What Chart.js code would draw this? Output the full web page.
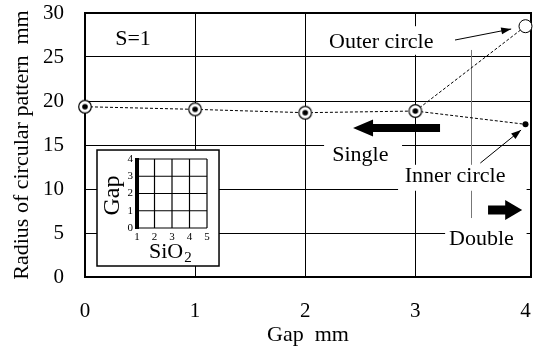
<!DOCTYPE html>
<html>
<head>
<meta charset="utf-8">
<script src="https://cdn.jsdelivr.net/npm/chart.js@4"></script>
<style>
  html, body { margin: 0; padding: 0; background: #fff; }
  #wrap { width: 533px; height: 349px; }
</style>
</head>
<body>
<div id="wrap"><canvas id="chart" width="533" height="349"></canvas></div>
<script>
const gapSingle = [0, 1, 2, 3];
const radiusSingle = [19.35, 19.05, 18.67, 18.86];
const gapDouble = [3, 4];
const radiusOuter = [18.86, 28.5];
const radiusInner = [18.86, 17.35];
const gapTicks = [0, 1, 2, 3, 4];
const radiusTicks = [0, 5, 10, 15, 20, 25, 30];
const insetGapTicks = [0, 1, 2, 3, 4];
const insetSiO2Ticks = [1, 2, 3, 4, 5];

const serif = '"Liberation Serif", "Times New Roman", serif';

// text labels, placed in data units; bg = white box that hides the grid
const notes = [
  { text: 'S=1', x: 0.436, y: 27.05 },
  { text: 'Outer circle', x: 2.69, y: 26.7, bg: [2.153, 3.233, 28.5, 25.25] },
  { text: 'Single', x: 2.50, y: 13.8, bg: [2.171, 2.879, 15.8, 12.4] },
  { text: 'Inner circle', x: 3.36, y: 11.45, bg: [2.843, 4.01, 12.75, 9.8] },
  { text: 'Double', x: 3.60, y: 4.3, bg: [3.27, 4.01, 6.0, 2.9] }
];

const ringDot = document.createElement('canvas');
ringDot.width = 16; ringDot.height = 16;
const rc = ringDot.getContext('2d');
rc.beginPath(); rc.arc(8, 8, 6.3, 0, Math.PI * 2);
rc.fillStyle = '#fff'; rc.fill();
rc.lineWidth = 1.2; rc.strokeStyle = '#000'; rc.stroke();
rc.beginPath(); rc.arc(8, 8, 2.8, 0, Math.PI * 2);
rc.fillStyle = '#000'; rc.fill();

const pts = (xs, ys) => xs.map((x, i) => ({ x: x, y: ys[i] }));

function thickArrow(ctx, tail, tip, y, shaft, headH, headL) {
  const d = tip > tail ? 1 : -1;
  const hb = tip - d * headL;
  ctx.beginPath();
  ctx.moveTo(tail, y - shaft / 2);
  ctx.lineTo(hb, y - shaft / 2);
  ctx.lineTo(hb, y - headH / 2);
  ctx.lineTo(tip, y);
  ctx.lineTo(hb, y + headH / 2);
  ctx.lineTo(hb, y + shaft / 2);
  ctx.lineTo(tail, y + shaft / 2);
  ctx.closePath();
  ctx.fill();
}

function thinArrow(ctx, x0, y0, x1, y1) {
  const a = Math.atan2(y1 - y0, x1 - x0);
  ctx.beginPath(); ctx.moveTo(x0, y0); ctx.lineTo(x1, y1); ctx.stroke();
  ctx.beginPath();
  ctx.moveTo(x1, y1);
  ctx.lineTo(x1 - 10 * Math.cos(a) + 3.5 * Math.sin(a), y1 - 10 * Math.sin(a) - 3.5 * Math.cos(a));
  ctx.lineTo(x1 - 10 * Math.cos(a) - 3.5 * Math.sin(a), y1 - 10 * Math.sin(a) + 3.5 * Math.cos(a));
  ctx.closePath(); ctx.fill();
}

const decorations = {
  id: 'decorations',
  beforeDatasetsDraw(chart) {
    const ctx = chart.ctx, xs = chart.scales.x, ys = chart.scales.y, a = chart.chartArea;
    const X = v => xs.getPixelForValue(v), Y = v => ys.getPixelForValue(v);
    ctx.save();
    // thin boundary line between single and double
    ctx.strokeStyle = '#777'; ctx.lineWidth = 1;
    ctx.beginPath(); ctx.moveTo(Math.round(X(3.506)) + 0.5, Y(25.8)); ctx.lineTo(Math.round(X(3.506)) + 0.5, Y(6.7)); ctx.stroke();

    ctx.fillStyle = '#fff';
    notes.forEach(n => {
      if (n.bg) ctx.fillRect(X(n.bg[0]), Y(n.bg[2]), X(n.bg[1]) - X(n.bg[0]), Y(n.bg[3]) - Y(n.bg[2]));
    });
    ctx.fillStyle = '#000';
    ctx.font = '22px ' + serif;
    ctx.textAlign = 'center'; ctx.textBaseline = 'middle';
    notes.forEach(n => ctx.fillText(n.text, X(n.x), Y(n.y)));

    // arrows
    thickArrow(ctx, X(3.224), X(2.434), Y(16.93), 8, 17, 20);
    thickArrow(ctx, X(3.66), X(3.97), Y(7.61), 9, 20, 17);
    ctx.strokeStyle = '#000'; ctx.lineWidth = 1;
    thinArrow(ctx, X(3.36), Y(26.93), X(3.87), Y(28.18));
    thinArrow(ctx, X(3.59), Y(12.95), X(3.96), Y(16.7));

    // inset: Gap vs SiO2 map
    const bl = X(0.109), bt = Y(14.43), br = X(1.217), bb = Y(1.25);
    ctx.fillStyle = '#fff'; ctx.fillRect(bl, bt, br - bl, bb - bt);
    ctx.strokeStyle = '#000'; ctx.lineWidth = 1.5;
    ctx.strokeRect(bl, bt, br - bl, bb - bt);
    const gx0 = bl + 40, gx1 = bl + 110, gy0 = bt + 9, gy1 = bt + 78;
    const nC = insetSiO2Ticks.length - 1, nR = insetGapTicks.length - 1;
    ctx.lineWidth = 1.2;
    insetSiO2Ticks.forEach((t, i) => {
      const x = gx0 + (gx1 - gx0) * i / nC;
      ctx.beginPath(); ctx.moveTo(x, gy0); ctx.lineTo(x, gy1); ctx.stroke();
    });
    insetGapTicks.forEach((t, i) => {
      const y = gy1 - (gy1 - gy0) * i / nR;
      ctx.beginPath(); ctx.moveTo(gx0, y); ctx.lineTo(gx1, y); ctx.stroke();
    });
    ctx.fillStyle = '#000';
    ctx.fillRect(gx0 - 2, gy0 - 1, 4, gy1 - gy0 + 2);
    ctx.font = '11px ' + serif;
    ctx.textAlign = 'right'; ctx.textBaseline = 'middle';
    insetGapTicks.forEach((t, i) => ctx.fillText(String(t), gx0 - 4, gy1 - (gy1 - gy0) * i / nR));
    ctx.textAlign = 'center'; ctx.textBaseline = 'top';
    insetSiO2Ticks.forEach((t, i) => ctx.fillText(String(t), gx0 + (gx1 - gx0) * i / nC, gy1 + 4));
    ctx.save();
    ctx.translate(bl + 16, (gy0 + gy1) / 2 + 2);
    ctx.rotate(-Math.PI / 2);
    ctx.font = '24px ' + serif; ctx.textBaseline = 'middle';
    ctx.fillText('Gap', 0, 0);
    ctx.restore();
    ctx.font = '22px ' + serif; ctx.textAlign = 'left'; ctx.textBaseline = 'alphabetic';
    const sx = (gx0 + gx1) / 2 - 23, sy = bb - 8;
    ctx.fillText('SiO', sx, sy);
    const w = ctx.measureText('SiO').width;
    ctx.font = '15px ' + serif;
    ctx.fillText('2', sx + w + 1, sy + 4);

    // plot frame
    ctx.strokeStyle = '#000'; ctx.lineWidth = 2;
    ctx.strokeRect(a.left, a.top, a.right - a.left, a.bottom - a.top);
    ctx.restore();
  }
};

new Chart(document.getElementById('chart'), {
  type: 'line',
  data: {
    datasets: [
      {
        data: pts(gapSingle, radiusSingle),
        borderColor: '#000', borderWidth: 1, borderDash: [3, 2],
        pointStyle: ringDot, pointRadius: 7, clip: 10
      },
      {
        data: pts(gapDouble, radiusOuter),
        borderColor: '#000', borderWidth: 1, borderDash: [3, 2],
        pointRadius: [0, 6.5], pointBackgroundColor: '#fff', pointBorderColor: '#000', pointBorderWidth: 1, clip: 10
      },
      {
        data: pts(gapDouble, radiusInner),
        borderColor: '#000', borderWidth: 1, borderDash: [3, 2],
        pointRadius: [0, 3], pointBackgroundColor: '#000', pointBorderColor: '#000', pointBorderWidth: 0, clip: 10
      }
    ]
  },
  options: {
    responsive: false,
    animation: false,
    layout: { autoPadding: false, padding: { top: 13, right: 2, left: 0, bottom: 0 } },
    plugins: { legend: { display: false }, tooltip: { enabled: false } },
    scales: {
      x: {
        type: 'linear', min: 0, max: 4.05,
        afterBuildTicks: s => { s.ticks = gapTicks.map(v => ({ value: v })); },
        afterFit: s => { s.height = 72; s.paddingLeft = 0; s.paddingRight = 0; },
        grid: {
          color: c => (c.tick && c.tick.value === gapTicks[gapTicks.length - 1]) ? 'rgba(0,0,0,0)' : '#000',
          lineWidth: 1, drawTicks: false
        },
        border: { display: false },
        ticks: { autoSkip: false, padding: 22, color: '#000', font: { family: serif, size: 21 } },
        title: { display: true, text: 'Gap  mm', color: '#000', padding: { top: 0, bottom: 1 }, font: { family: serif, size: 22 } }
      },
      y: {
        min: 0, max: 30,
        afterBuildTicks: s => { s.ticks = radiusTicks.map(v => ({ value: v })); },
        afterFit: s => { s.width = 85; s.paddingTop = 0; s.paddingBottom = 0; },
        grid: { color: '#000', lineWidth: 1, drawTicks: false },
        border: { display: false },
        ticks: { autoSkip: false, padding: 21, color: '#000', font: { family: serif, size: 21 } },
        title: { display: true, text: 'Radius of circular pattern  mm', color: '#000', padding: { top: 9, bottom: 0 }, font: { family: serif, size: 22 } }
      }
    }
  },
  plugins: [decorations]
});
</script>
</body>
</html>
